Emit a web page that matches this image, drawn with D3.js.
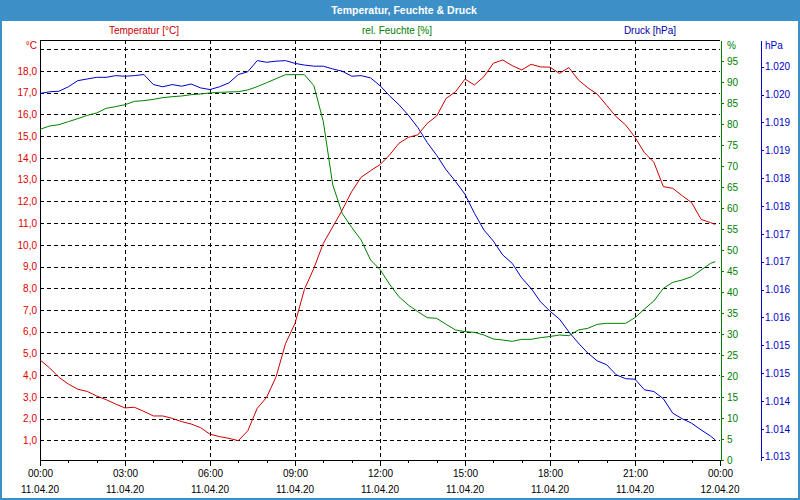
<!DOCTYPE html>
<html>
<head>
<meta charset="utf-8">
<script src="https://cdn.jsdelivr.net/npm/d3@7"></script>
<style>
  body { margin: 0; background: #fff; }
  svg { display: block; }
  text { font-family: "Liberation Sans", Arial, sans-serif; font-size: 10px; }
</style>
</head>
<body>
<svg></svg>
<script>
// minutes since 11.04.20 00:00
var minutes = [0,20,40,60,80,100,120,140,160,180,200,220,240,260,280,300,320,340,
  360,380,400,420,440,460,480,500,520,540,560,580,600,620,640,660,680,700,
  720,740,760,780,800,820,840,860,880,900,920,940,960,980,1000,1020,1040,1060,
  1080,1100,1120,1140,1160,1180,1200,1220,1240,1260,1280,1300,1320,1340,1360,1380,1400,1420,
  1430];

var temperatur = [4.70,4.34,3.90,3.59,3.35,3.25,3.04,2.87,2.67,2.49,2.52,2.33,2.12,2.12,2.01,1.86,1.75,1.58,
  1.28,1.17,1.09,0.98,1.44,2.47,2.98,3.93,5.46,6.38,7.95,8.92,10.07,10.83,11.60,12.45,13.11,13.41,
  13.69,14.13,14.67,14.95,15.06,15.59,15.93,16.74,17.05,17.63,17.36,17.74,18.36,18.51,18.25,18.05,18.31,18.19,
  18.18,17.89,18.16,17.59,17.23,16.94,16.42,15.90,15.52,14.95,14.24,13.80,12.68,12.60,12.26,11.94,11.17,11.02,
  10.94];

var feuchte = [78.73,79.52,79.84,80.56,81.27,82.06,82.62,83.73,84.13,84.60,85.40,85.56,85.87,86.27,86.51,86.67,86.98,87.14,
  87.40,87.54,87.62,87.70,88.10,88.89,89.84,90.79,91.75,91.75,91.75,89.13,80.56,65.48,58.73,55.40,52.38,47.62,
  45.35,41.90,38.89,36.90,35.32,33.89,33.73,32.30,30.95,30.56,30.40,29.76,28.81,28.57,28.25,28.73,28.73,29.13,
  29.40,29.76,29.60,30.95,31.35,32.30,32.54,32.54,32.54,33.89,35.95,37.86,40.87,42.30,42.86,43.65,45.24,46.83,
  47.22];

var druck = [1019.77,1019.80,1019.81,1019.89,1020.00,1020.03,1020.06,1020.06,1020.09,1020.08,1020.09,1020.11,1019.93,1019.89,1019.93,1019.90,1019.94,1019.87,
  1019.84,1019.89,1019.96,1020.11,1020.16,1020.36,1020.33,1020.35,1020.36,1020.31,1020.28,1020.26,1020.26,1020.21,1020.17,1020.08,1020.09,1020.05,
  1019.91,1019.73,1019.57,1019.38,1019.16,1018.89,1018.66,1018.40,1018.19,1017.96,1017.62,1017.32,1017.12,1016.87,1016.72,1016.46,1016.27,1016.03,
  1015.86,1015.72,1015.49,1015.29,1015.11,1014.97,1014.90,1014.72,1014.65,1014.64,1014.45,1014.42,1014.29,1014.03,1013.93,1013.85,1013.73,1013.62,
  1013.55];

var tempGrid = [1,2,3,4,5,6,7,8,9,10,11,12,13,14,15,16,17,18,19];
var tempTicks = [1,2,3,4,5,6,7,8,9,10,11,12,13,14,15,16,17,18];
var feuchteTicks = [0,5,10,15,20,25,30,35,40,45,50,55,60,65,70,75,80,85,90,95];
var druckTicks = [1013.25,1013.75,1014.25,1014.75,1015.25,1015.75,1016.25,1016.75,1017.25,1017.75,1018.25,1018.75,1019.25,1019.75,1020.25];
var hourTicks = [0,1,2,3,4,5,6,7,8,9,10,11,12,13,14,15,16,17,18,19,20,21,22,23,24];
var labelHours = [0,3,6,9,12,15,18,21,24];

var width = 800;
var height = 500;
var plotLeft = 40, plotRight = 720, plotTop = 40, plotBottom = 460;

var svg = d3.select("svg")
            .attr("width", width)
            .attr("height", height);

var start = new Date(2020, 3, 11, 0, 0);
var toDate = function(m){ return new Date(start.getTime() + m * 60000); };

var xScale = d3.scaleTime()
               .domain([start, toDate(1440)])
               .range([plotLeft, plotRight]);

var yTemp = d3.scaleLinear().domain([0.092, 19.43]).range([plotBottom, plotTop]);
var yFeuchte = d3.scaleLinear().domain([0, 100]).range([plotBottom, plotTop]);
var yDruck = d3.scaleLinear().domain([1013.19, 1020.73]).range([plotBottom, plotTop]);

// frame and title bar
svg.append("rect")
   .attr("x", 1).attr("y", 1)
   .attr("width", width - 2).attr("height", height - 2)
   .attr("fill", "#fff")
   .attr("stroke", "#3c8fc7")
   .attr("stroke-width", 2);

svg.append("rect")
   .attr("x", 0).attr("y", 0)
   .attr("width", width).attr("height", 21)
   .attr("fill", "#3c8fc7");

svg.append("text")
   .attr("x", 404).attr("y", 14)
   .attr("text-anchor", "middle")
   .attr("fill", "#fff")
   .style("font-weight", "bold")
   .style("font-size", "10.5px")
   .text("Temperatur, Feuchte & Druck");

// legend labels
svg.append("text").attr("x", 144).attr("y", 34).attr("text-anchor", "middle")
   .attr("fill", "#cc0000").text("Temperatur [°C]");
svg.append("text").attr("x", 397).attr("y", 34).attr("text-anchor", "middle")
   .attr("fill", "#008000").text("rel. Feuchte [%]");
svg.append("text").attr("x", 650).attr("y", 34).attr("text-anchor", "middle")
   .attr("fill", "#0000aa").text("Druck [hPa]");

// grid
var grid = svg.append("g").attr("shape-rendering", "crispEdges");

grid.selectAll(".hgrid")
    .data(tempGrid)
    .enter()
    .append("line")
    .attr("x1", plotLeft).attr("x2", plotRight)
    .attr("y1", function(d){ return Math.round(yTemp(d)) + 0.5; })
    .attr("y2", function(d){ return Math.round(yTemp(d)) + 0.5; })
    .attr("stroke", "#000")
    .attr("stroke-dasharray", "4,3");

grid.selectAll(".vgrid")
    .data([3,6,9,12,15,18,21])
    .enter()
    .append("line")
    .attr("x1", function(d){ return Math.round(xScale(toDate(d * 60))) + 0.5; })
    .attr("x2", function(d){ return Math.round(xScale(toDate(d * 60))) + 0.5; })
    .attr("y1", plotTop).attr("y2", plotBottom)
    .attr("stroke", "#000")
    .attr("stroke-dasharray", "4,3");

// plot borders
grid.append("line").attr("x1", plotLeft).attr("x2", plotRight).attr("y1", plotTop + 0.5).attr("y2", plotTop + 0.5).attr("stroke", "#000");
grid.append("line").attr("x1", plotLeft + 0.5).attr("x2", plotLeft + 0.5).attr("y1", plotTop).attr("y2", plotBottom + 2).attr("stroke", "#000");
grid.append("line").attr("x1", plotLeft).attr("x2", plotRight).attr("y1", plotBottom + 0.5).attr("y2", plotBottom + 0.5).attr("stroke", "#000");

// left temperature axis
var tempAxis = d3.axisLeft(yTemp)
                 .tickValues(tempTicks)
                 .tickSize(0)
                 .tickPadding(3)
                 .tickFormat(function(d){ return d.toFixed(1).replace(".", ","); });

var gT = svg.append("g").attr("transform", "translate(" + plotLeft + ",0)").call(tempAxis);
gT.select(".domain").remove();
gT.selectAll("text").attr("fill", "#dd0000").style("font-size", "10px").style("font-family", "Liberation Sans, Arial, sans-serif");

svg.append("text").attr("x", 37).attr("y", 48.5).attr("text-anchor", "end")
   .attr("fill", "#dd0000").text("°C");

// right humidity axis
var feuchteAxis = d3.axisRight(yFeuchte)
                    .tickValues(feuchteTicks)
                    .tickSize(3)
                    .tickSizeOuter(0)
                    .tickPadding(3);

var gF = svg.append("g").attr("transform", "translate(721,0)")
            .attr("shape-rendering", "crispEdges").call(feuchteAxis);
gF.select(".domain").attr("stroke", "#008000");
gF.selectAll(".tick line").attr("stroke", "#008000");
gF.selectAll("text").attr("fill", "#008000").style("font-size", "10px").style("font-family", "Liberation Sans, Arial, sans-serif");

svg.append("text").attr("x", 727).attr("y", 48.5).attr("fill", "#008000").text("%");

// pressure axis
var druckAxis = d3.axisRight(yDruck)
                  .tickValues(druckTicks)
                  .tickSize(3)
                  .tickSizeOuter(0)
                  .tickPadding(1)
                  .tickFormat(function(d){ return d3.format(",")(Math.round(d)).replace(",", "."); });

var gD = svg.append("g").attr("transform", "translate(761,0)")
            .attr("shape-rendering", "crispEdges").call(druckAxis);
gD.select(".domain").attr("stroke", "#0000cc");
gD.selectAll(".tick line").attr("stroke", "#0000cc");
gD.selectAll("text").attr("fill", "#0000cc").style("font-size", "10px").style("font-family", "Liberation Sans, Arial, sans-serif");

svg.append("text").attr("x", 765).attr("y", 48.5).attr("fill", "#0000cc").text("hPa");

// bottom time axis
var minorAxis = d3.axisBottom(xScale)
                  .tickValues(hourTicks.map(function(h){ return toDate(h * 60); }))
                  .tickSize(3)
                  .tickSizeOuter(0)
                  .tickFormat("");

var gM = svg.append("g").attr("transform", "translate(0," + plotBottom + ")")
            .attr("shape-rendering", "crispEdges").call(minorAxis);
gM.select(".domain").remove();

var timeAxis = d3.axisBottom(xScale)
                 .tickValues(labelHours.map(function(h){ return toDate(h * 60); }))
                 .tickSize(6)
                 .tickSizeOuter(0)
                 .tickPadding(4)
                 .tickFormat(d3.timeFormat("%H:%M"));

var gX = svg.append("g").attr("transform", "translate(0," + plotBottom + ")")
            .attr("shape-rendering", "crispEdges").call(timeAxis);
gX.select(".domain").remove();
gX.selectAll("text").attr("fill", "#000").style("font-size", "10px").style("font-family", "Liberation Sans, Arial, sans-serif");

svg.selectAll(".datelabel")
   .data(labelHours)
   .enter()
   .append("text")
   .attr("x", function(d){ return xScale(toDate(d * 60)); })
   .attr("y", 493)
   .attr("text-anchor", "middle")
   .attr("fill", "#000")
   .text(function(d){ return d3.timeFormat("%d.%m.%y")(toDate(d * 60)); });

// series
var makeLine = function(yScale){
  return d3.line()
           .x(function(d, i){ return xScale(toDate(minutes[i])); })
           .y(function(d){ return yScale(d); });
};

svg.append("path")
   .datum(druck)
   .attr("d", makeLine(yDruck))
   .attr("fill", "none")
   .attr("stroke", "#0000cc")
   .attr("stroke-width", 1);

svg.append("path")
   .datum(feuchte)
   .attr("d", makeLine(yFeuchte))
   .attr("fill", "none")
   .attr("stroke", "#008000")
   .attr("stroke-width", 1);

svg.append("path")
   .datum(temperatur)
   .attr("d", makeLine(yTemp))
   .attr("fill", "none")
   .attr("stroke", "#cc0000")
   .attr("stroke-width", 1);
</script>
</body>
</html>
